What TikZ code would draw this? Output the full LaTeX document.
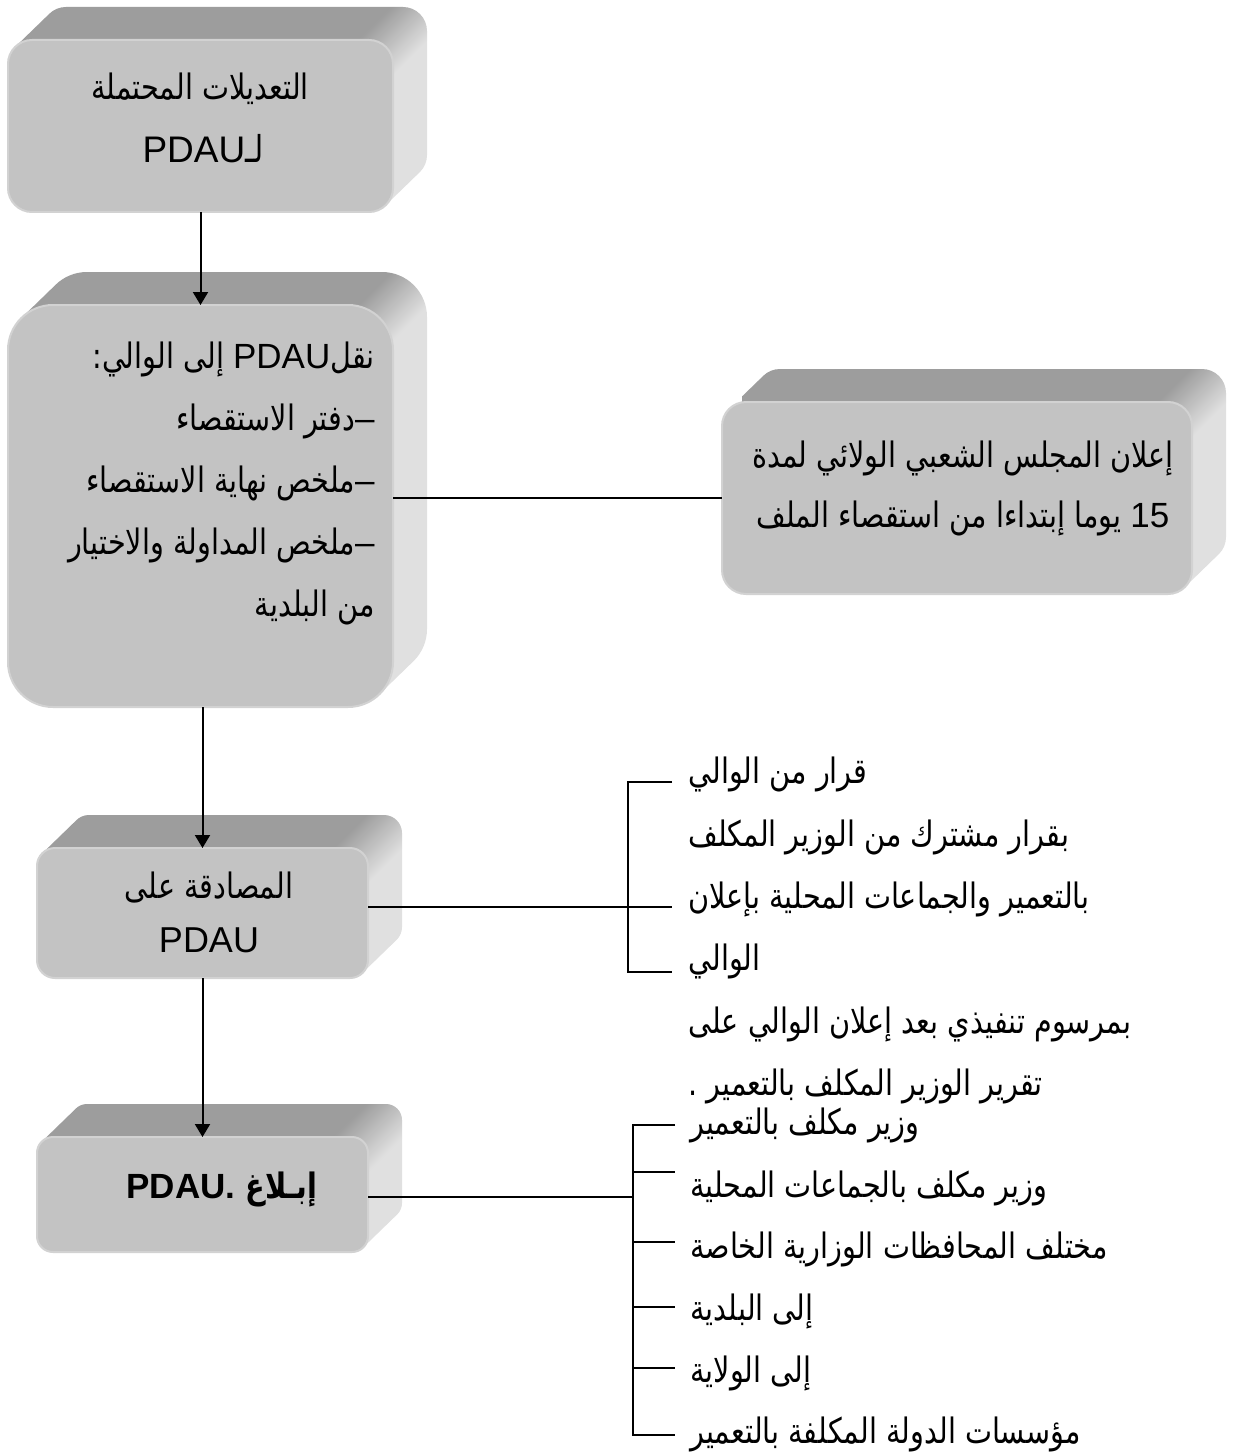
\documentclass[tikz,border=0pt]{standalone}
\usepackage{fontspec}
\setmainfont{Liberation Sans}
\newfontfamily\arabicfont[Script=Arabic,FakeStretch=0.82]{DejaVu Sans}
\TeXXeTstate=1
\usetikzlibrary{arrows.meta,calc}

\definecolor{facegray}{HTML}{C3C3C3}
\definecolor{rimgray}{HTML}{D2D2D2}
\definecolor{topgray}{HTML}{9D9D9D}
\definecolor{sidegray}{HTML}{E0E0E0}

% dark top bevel blending into the light right-hand bevel
\pgfdeclarehorizontalshading{bevelsplit}{100bp}{%
  color(0bp)=(topgray); color(48.6bp)=(topgray);
  color(51.4bp)=(sidegray); color(100bp)=(sidegray)}

% Arabic run (right to left) and an embedded Latin run
\newcommand{\ar}[1]{{\arabicfont\beginR #1\endR}}
\newcommand{\lat}[1]{\beginL{\rmfamily #1}\endL}

% depth of the extruded slabs
\newcommand{\dX}{34}
\newcommand{\dY}{33}

% \slab{name}{left}{top}{right}{bottom}{corner radius}
\newcommand{\slab}[6]{%
  \pgfmathsetmacro{\slabw}{(#4-#2)*0.5}%
  \pgfmathsetmacro{\slabh}{(#5-#3)*0.5}%
  \pgfmathsetmacro{\slabr}{#6*0.5}%
  \begin{scope}
    \path[clip, rounded corners=\slabr pt]
      foreach \k in {1,...,34} {(#2+\k*\dX/34,#3-\k*\dY/34) rectangle (#4+\k*\dX/34,#5-\k*\dY/34)};
    \shade[shading=bevelsplit, shading angle=-45] (#4-450,#3-450) rectangle (#4+450,#3+450);
  \end{scope}
  \node[face, minimum width=\slabw pt, minimum height=\slabh pt, rounded corners=\slabr pt] (#1) at ({(#2+#4)/2},{(#3+#5)/2}) {};
}

\tikzset{
  face/.style={draw=rimgray, fill=facegray, line width=1pt, inner sep=0pt, outer sep=0pt},
  txt/.style={inner sep=0pt, font=\fontsize{17.5}{21}\selectfont},
  conn/.style={line width=1pt, black},
  arrow/.style={conn, -{Triangle[length=6.5pt,width=7.5pt]}},
}

\begin{document}
\begin{tikzpicture}[x=0.5pt, y=-0.5pt]
\useasboundingbox[fill=white] (0,0) rectangle (1235,1455);

% slabs
\slab{f1}{8}{40}{393}{212}{24}
\slab{f2}{8}{305}{393}{707}{45}
\slab{f3}{722}{402}{1192}{594}{24}
\slab{f4}{37}{848}{368}{978}{18}
\slab{f5}{37}{1137}{368}{1252}{16}

% texts on the slabs
\node[txt, anchor=base] (t1a) at (200,100) {\ar{التعديلات المحتملة}};
\node[txt, anchor=base, font=\fontsize{18.5}{21}\selectfont] (t1b) at (203,163) {\ar{لـ\lat{PDAU}}};

\node[txt, anchor=base east] (t2a) at (375,368) {\ar{نقل\lat{PDAU} إلى الوالي:}};
\node[txt, anchor=base east] (t2b) at (375,430) {\ar{\lat{–}دفتر الاستقصاء}};
\node[txt, anchor=base east] (t2c) at (375,492) {\ar{\lat{–}ملخص نهاية الاستقصاء}};
\node[txt, anchor=base east] (t2d) at (375,554) {\ar{\lat{–}ملخص المداولة والاختيار}};
\node[txt, anchor=base east] (t2e) at (375,616) {\ar{من البلدية}};

\node[txt, anchor=base] (t3a) at (963,467) {\ar{إعلان المجلس الشعبي الولائي لمدة}};
\node[txt, anchor=base] (t3b) at (963,527) {\ar{\lat{15} يوما إبتداءا من استقصاء الملف}};

\node[txt, anchor=base] (t4a) at (209,898) {\ar{المصادقة على}};
\node[txt, anchor=base, font=\fontsize{18}{21}\selectfont] (t4b) at (209,952) {PDAU};

\node[txt, anchor=base, font=\fontsize{17.5}{21}\selectfont\bfseries] (t5) at (222,1198) {\ar{إبـلاغ \lat{PDAU.}}};

% texts beside the brackets
\node[txt, anchor=base west] (r1) at (688,783) {\ar{قرار من الوالي}};
\node[txt, anchor=base west] (r2) at (688,846) {\ar{بقرار مشترك من الوزير المكلف}};
\node[txt, anchor=base west] (r3) at (688,908) {\ar{بالتعمير والجماعات المحلية بإعلان}};
\node[txt, anchor=base west] (r4) at (688,970) {\ar{الوالي}};
\node[txt, anchor=base west] (r5) at (688,1033) {\ar{بمرسوم تنفيذي بعد إعلان الوالي على}};
\node[txt, anchor=base west] (r6) at (688,1095) {\ar{تقرير الوزير المكلف بالتعمير .}};

\node[txt, anchor=base west] (s1) at (690,1134) {\ar{وزير مكلف بالتعمير}};
\node[txt, anchor=base west] (s2) at (690,1197) {\ar{وزير مكلف بالجماعات المحلية}};
\node[txt, anchor=base west] (s3) at (690,1258) {\ar{مختلف المحافظات الوزارية الخاصة}};
\node[txt, anchor=base west] (s4) at (690,1320) {\ar{إلى البلدية}};
\node[txt, anchor=base west] (s5) at (690,1382) {\ar{إلى الولاية}};
\node[txt, anchor=base west] (s6) at (690,1443) {\ar{مؤسسات الدولة المكلفة بالتعمير}};

% bracket beside the approval slab
\coordinate (b4top) at (628,782);
\coordinate (b4bot) at (628,972);
\coordinate (b4e1) at (672,782);
\coordinate (b4e3) at (672,907);
\coordinate (b4e4) at (672,972);
\draw[conn] (b4e1) -- (b4top) -- (b4bot) -- (b4e4);
\draw[conn] (f4.east |- b4e3) -- (b4e3);

% bracket beside the notification slab
\coordinate (b5top) at (633,1125);
\coordinate (b5bot) at (633,1435);
\coordinate (b5mid) at (633,1197);
\coordinate (b5e1) at (675,1125);
\coordinate (b5e2) at (675,1172);
\coordinate (b5e3) at (675,1242);
\coordinate (b5e4) at (675,1307);
\coordinate (b5e5) at (675,1368);
\coordinate (b5e6) at (675,1435);
\draw[conn] (b5e1) -- (b5top) -- (b5bot) -- (b5e6);
\foreach \e in {b5e2,b5e3,b5e4,b5e5}
  \draw[conn] (\e -| b5top) -- (\e);
\draw[conn] (f5.east |- b5mid) -- (b5mid);

% flow arrows
\draw[arrow] (f1.south) -- (f2.north);
\draw[arrow] (f4.north |- f2.south) -- (f4.north);
\draw[arrow] (f4.south) -- (f5.north);
\draw[conn] (f3.west -| f2.east) -- (f3.west);
\end{tikzpicture}
\end{document}
